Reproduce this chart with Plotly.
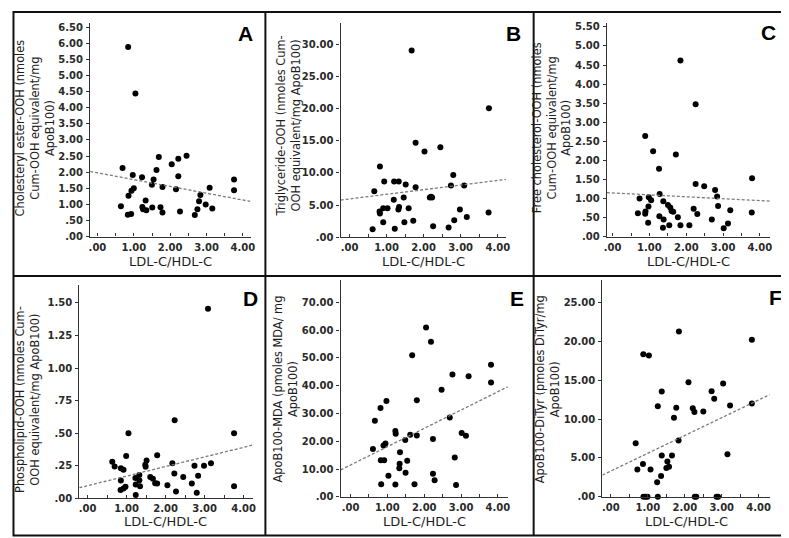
import plotly.graph_objects as go

W, H = 789, 538

# ---------------- data ----------------
x_tick_vals = [0, 1, 2, 3, 4]
x_tick_text = [".00", "1.00", "2.00", "3.00", "4.00"]
x_title = "LDL-C/HDL-C"

# Panel A
a_x = [0.844, 1.044, 0.69, 0.645, 0.854, 0.835, 0.926, 0.935, 0.999, 0.971, 1.225, 1.235, 1.253,
       1.325, 1.343, 1.498, 1.507, 1.543, 1.624, 1.688, 1.733, 1.788, 1.788, 2.042, 2.16, 2.223,
       2.223, 2.269, 2.45, 2.677, 2.749, 2.794, 2.831, 2.976, 3.085, 3.158, 3.756, 3.756]
a_y = [5.89, 4.44, 2.13, 0.94, 1.27, 0.68, 0.70, 1.42, 1.50, 1.91, 1.84, 0.92, 0.85, 1.12, 0.82,
       1.61, 0.90, 1.77, 2.07, 2.47, 0.91, 1.54, 0.75, 2.25, 1.47, 2.42, 1.87, 0.78, 2.51, 0.67,
       0.85, 1.10, 1.29, 1.00, 1.52, 0.87, 1.77, 1.44]
a_fit = [1.98, -0.211]  # intercept, slope
a_y_ticks = [0, 0.5, 1, 1.5, 2, 2.5, 3, 3.5, 4, 4.5, 5, 5.5, 6, 6.5]
a_y_text = [".00", ".50", "1.00", "1.50", "2.00", "2.50", "3.00", "3.50", "4.00", "4.50",
            "5.00", "5.50", "6.00", "6.50"]
a_title = "Cholesteryl ester-OOH (nmoles<br>Cum-OOH equivalent/mg<br>ApoB100)"

# Panel B
b_x = [0.624, 0.668, 0.82, 0.811, 0.82, 0.909, 0.909, 0.936, 1.025, 1.194, 1.203, 1.221, 1.328,
       1.319, 1.337, 1.462, 1.48, 1.515, 1.595, 1.676, 1.72, 1.783, 1.783, 2.023, 2.166, 2.201,
       2.228, 2.255, 2.451, 2.674, 2.736, 2.799, 2.825, 2.977, 3.093, 3.164, 3.761, 3.752]
b_y = [1.25, 7.14, 11.0, 4.0, 3.7, 2.35, 4.5, 8.67, 4.5, 5.82, 8.67, 1.33, 8.67, 4.3, 4.7, 6.17,
       2.35, 8.21, 4.5, 29.03, 2.55, 14.69, 7.76, 13.32, 6.2, 6.3, 6.2, 1.73, 13.98, 1.5, 8.06,
       9.69, 2.65, 4.3, 8.06, 3.16, 20.05, 3.85]
b_fit = [5.96, 0.72]
b_y_ticks = [0, 5, 10, 15, 20, 25, 30]
b_y_text = [".00", "5.00", "10.00", "15.00", "20.00", "25.00", "30.00"]
b_title = "Triglyceride-OOH (nmoles Cum-<br>OOH equivalent/mg ApoB100)"

# Panel C
c_x = [0.686, 0.731, 0.884, 0.884, 0.892, 0.964, 0.973, 0.982, 1.045, 1.099, 1.277, 1.26, 1.269,
       1.376, 1.385, 1.367, 1.502, 1.538, 1.565, 1.6, 1.645, 1.717, 1.771, 1.842, 1.842, 2.084,
       2.2, 2.254, 2.254, 2.299, 2.487, 2.694, 2.783, 2.837, 2.864, 3.016, 3.133, 3.195, 3.787,
       3.778]
c_y = [0.61, 1.0, 2.64, 0.60, 0.66, 0.36, 0.79, 1.03, 0.95, 2.24, 1.12, 1.78, 0.53, 0.93, 0.45,
       0.23, 0.83, 0.30, 0.76, 0.67, 0.65, 2.15, 0.51, 0.30, 4.62, 0.30, 0.73, 1.38, 3.47, 0.59,
       1.32, 0.45, 1.22, 1.05, 0.80, 0.22, 0.34, 0.69, 1.53, 0.63]
c_fit = [1.144, -0.05]
c_y_ticks = [0, 0.5, 1, 1.5, 2, 2.5, 3, 3.5, 4, 4.5, 5, 5.5]
c_y_text = [".00", ".50", "1.00", "1.50", "2.00", "2.50", "3.00", "3.50", "4.00", "4.50",
            "5.00", "5.50"]
c_title = "Free cholesterol-OOH (nmoles<br>Cum-OOH equivalent/mg<br>ApoB100)"

# Panel D
d_x = [0.635, 0.695, 0.855, 0.923, 0.855, 0.847, 0.923, 0.974, 0.991, 1.05, 1.228, 1.236, 1.236,
       1.329, 1.329, 1.346, 1.481, 1.49, 1.515, 1.608, 1.676, 1.735, 1.786, 1.786, 2.048, 2.175,
       2.226, 2.234, 2.268, 2.454, 2.674, 2.742, 2.801, 2.835, 2.987, 3.089, 3.165, 3.757, 3.757]
d_y = [0.28, 0.245, 0.23, 0.22, 0.136, 0.063, 0.076, 0.088, 0.325, 0.50, 0.156, 0.106, 0.025,
       0.18, 0.139, 0.093, 0.257, 0.242, 0.29, 0.164, 0.151, 0.116, 0.113, 0.33, 0.10, 0.27,
       0.19, 0.60, 0.053, 0.164, 0.113, 0.25, 0.043, 0.174, 0.25, 1.455, 0.27, 0.50, 0.093]
d_fit = [0.097, 0.0736]
d_y_ticks = [0, 0.25, 0.5, 0.75, 1.0, 1.25, 1.5]
d_y_text = [".00", ".25", ".50", ".75", "1.00", "1.25", "1.50"]
d_title = "Phospholipid-OOH (nmoles Cum-<br>OOH equivalent/mg ApoB100)"

# Panel E
e_x = [0.608, 0.662, 0.814, 0.832, 0.823, 0.913, 0.895, 0.949, 0.975, 1.029, 1.217, 1.226, 1.217,
       1.324, 1.333, 1.342, 1.485, 1.494, 1.539, 1.62, 1.673, 1.736, 1.799, 1.799, 2.049, 2.183,
       2.237, 2.237, 2.282, 2.47, 2.693, 2.765, 2.828, 2.863, 3.016, 3.132, 3.204, 3.812, 3.812]
e_y = [17.2, 27.4, 32.0, 4.6, 13.2, 13.2, 18.5, 19.2, 34.5, 7.6, 23.7, 22.7, 4.5, 10.3, 11.9,
       16.1, 20.5, 8.7, 13.0, 22.4, 50.9, 4.6, 34.8, 22.1, 60.9, 55.8, 20.8, 8.3, 6.0, 38.5,
       28.6, 44.0, 14.2, 4.3, 23.0, 22.0, 43.4, 47.5, 41.1]
e_fit = [11.48, 6.59]
e_y_ticks = [0, 10, 20, 30, 40, 50, 60, 70]
e_y_text = [".00", "10.00", "20.00", "30.00", "40.00", "50.00", "60.00", "70.00"]
e_title = "ApoB100-MDA (pmoles MDA/ mg<br>ApoB100)"

# Panel F
f_x = [0.67, 0.715, 0.867, 0.876, 0.88, 0.94, 0.99, 1.028, 1.072, 1.251, 1.269, 1.269, 1.358,
       1.376, 1.376, 1.501, 1.528, 1.573, 1.653, 1.707, 1.769, 1.832, 1.841, 2.1, 2.216, 2.261,
       2.27, 2.31, 2.502, 2.726, 2.797, 2.86, 2.9, 3.038, 3.155, 3.226, 3.816, 3.816]
f_y = [6.9, 3.5, 4.2, 18.35, 0, 0, 0, 18.2, 3.5, 1.86, 11.65, 0, 2.67, 5.3, 13.56, 3.69, 4.53,
       3.86, 5.3, 10.17, 11.48, 7.25, 21.3, 14.75, 11.4, 10.93, 0, 0, 10.97, 13.6, 12.63, 0, 0,
       14.58, 5.47, 11.74, 20.25, 12.0]
f_fit = [3.31, 2.29]
f_y_ticks = [0, 5, 10, 15, 20, 25]
f_y_text = [".00", "5.00", "10.00", "15.00", "20.00", "25.00"]
f_title = "ApoB100-DiTyr (pmoles DiTyr/mg<br>ApoB100)"

panel_letters = ["A", "B", "C", "D", "E", "F"]

# ---------------- layout config (pixels) ----------------
panels = [
    dict(x=a_x, y=a_y, fit=a_fit, yt=a_y_ticks, ytt=a_y_text, title=a_title,
         box=(80, 13.3, 242, 230), xr=(-0.2, 4.21), yr=(0, 6.63),
         ytpos=(24.5, 120), xtpos=255.5, lpos=(236.7, 24)),
    dict(x=b_x, y=b_y, fit=b_fit, yt=b_y_ticks, ytt=b_y_text, title=b_title,
         box=(333, 13.3, 500, 230.7), xr=(-0.24, 4.22), yr=(0, 33.3),
         ytpos=(280, 118), xtpos=255.5, lpos=(508, 24)),
    dict(x=c_x, y=c_y, fit=c_fit, yt=c_y_ticks, ytt=c_y_text, title=c_title,
         box=(602, 13.3, 767, 230), xr=(-0.156, 4.28), yr=(0, 5.6),
         ytpos=(546.5, 119), xtpos=255.5, lpos=(765.3, 23)),
    dict(x=d_x, y=d_y, fit=d_fit, yt=d_y_ticks, ytt=d_y_text, title=d_title,
         box=(69, 279, 244, 495.7), xr=(-0.21, 4.23), yr=(0, 1.639),
         ytpos=(16, 395), xtpos=519.5, lpos=(242, 293)),
    dict(x=e_x, y=e_y, fit=e_fit, yt=e_y_ticks, ytt=e_y_text, title=e_title,
         box=(333, 274, 502, 494.3), xr=(-0.268, 4.27), yr=(0, 78),
         ytpos=(277, 385), xtpos=519.5, lpos=(511.3, 293)),
    dict(x=f_x, y=f_y, fit=f_fit, yt=f_y_ticks, ytt=f_y_text, title=f_title,
         box=(597.5, 274, 766.5, 494), xr=(-0.23, 4.30), yr=(0, 27.95),
         ytpos=(541.5, 385), xtpos=519, lpos=(772.7, 292)),
]

TEXT = "#1e1e1e"
AXIS = "#333333"
TICKFONT = dict(family="DejaVu Sans", size=10, color="#2a2a2a", weight="bold")


def px(xp):
    return xp / W


def py(yp):
    return 1 - yp / H


fig = go.Figure()
annotations = []
for i, p in enumerate(panels, start=1):
    xa = "x" if i == 1 else f"x{i}"
    ya = "y" if i == 1 else f"y{i}"
    x0, y0, x1, y1 = p["box"]
    fig.add_trace(go.Scatter(
        x=p["x"], y=p["y"], mode="markers", xaxis=xa, yaxis=ya,
        marker=dict(color="black", size=6), cliponaxis=False, hoverinfo="skip"))
    b0, b1 = p["fit"]
    lx = list(p["xr"])
    ly = [b0 + b1 * v for v in lx]
    fig.add_trace(go.Scatter(
        x=lx, y=ly, mode="lines", xaxis=xa, yaxis=ya,
        line=dict(color="#7a7a7a", width=1.3, dash="3px,2px"), hoverinfo="skip"))

    xkey = "xaxis" if i == 1 else f"xaxis{i}"
    ykey = "yaxis" if i == 1 else f"yaxis{i}"
    fig.layout[xkey] = dict(
        domain=[px(x0), px(x1)], range=list(p["xr"]), anchor=ya,
        showline=True, linecolor=AXIS, linewidth=1.3, showgrid=False, zeroline=False,
        tickvals=x_tick_vals, ticktext=x_tick_text, ticks="inside", ticklen=3,
        tickcolor=AXIS, tickwidth=1, tickfont=TICKFONT, ticklabelstandoff=1,
        minor=dict(tickvals=[0.5, 1.5, 2.5, 3.5], ticks="inside", ticklen=3,
                   tickcolor=AXIS, tickwidth=1, showgrid=False),
        fixedrange=True)
    fig.layout[ykey] = dict(
        domain=[py(y1), py(y0)], range=list(p["yr"]), anchor=xa,
        showline=True, linecolor=AXIS, linewidth=1.3, showgrid=False, zeroline=False,
        tickvals=p["yt"], ticktext=p["ytt"], ticks="outside", ticklen=3,
        tickcolor=AXIS, tickwidth=1, tickfont=TICKFONT, ticklabelstandoff=1,
        fixedrange=True)

    annotations.append(dict(
        text=x_title, x=px((x0 + x1) / 2), y=py(p["xtpos"]), xref="paper", yref="paper",
        xanchor="center", yanchor="middle", showarrow=False,
        font=dict(family="DejaVu Sans", size=13, color=TEXT)))
    annotations.append(dict(
        text=p["title"], x=px(p["ytpos"][0]), y=py(p["ytpos"][1]), xref="paper", yref="paper",
        xanchor="center", yanchor="middle", showarrow=False, textangle=-90,
        font=dict(family="DejaVu Sans", size=11.4, color=TEXT)))
    annotations.append(dict(
        text=panel_letters[i - 1], x=px(p["lpos"][0]), y=py(p["lpos"][1]),
        xref="paper", yref="paper", xanchor="center", yanchor="middle", showarrow=False,
        font=dict(family="Liberation Sans", size=21, color="black", weight="bold")))

# panel frames
frame = dict(color="#111111", width=2)
shapes = [
    dict(type="rect", xref="paper", yref="paper", x0=px(2.5), x1=px(785.5),
         y0=py(533.5), y1=py(2), line=frame),
    dict(type="line", xref="paper", yref="paper", x0=px(257), x1=px(257),
         y0=py(533.5), y1=py(2), line=frame),
    dict(type="line", xref="paper", yref="paper", x0=px(528), x1=px(528),
         y0=py(533.5), y1=py(2), line=frame),
    dict(type="line", xref="paper", yref="paper", x0=px(2.5), x1=px(785.5),
         y0=py(270), y1=py(270), line=frame),
]

fig.update_layout(
    width=W, height=H, margin=dict(l=0, r=0, t=0, b=0),
    paper_bgcolor="white", plot_bgcolor="white", showlegend=False,
    annotations=annotations, shapes=shapes,
)

fig.write_html("out.html", config=dict(displayModeBar=False))
